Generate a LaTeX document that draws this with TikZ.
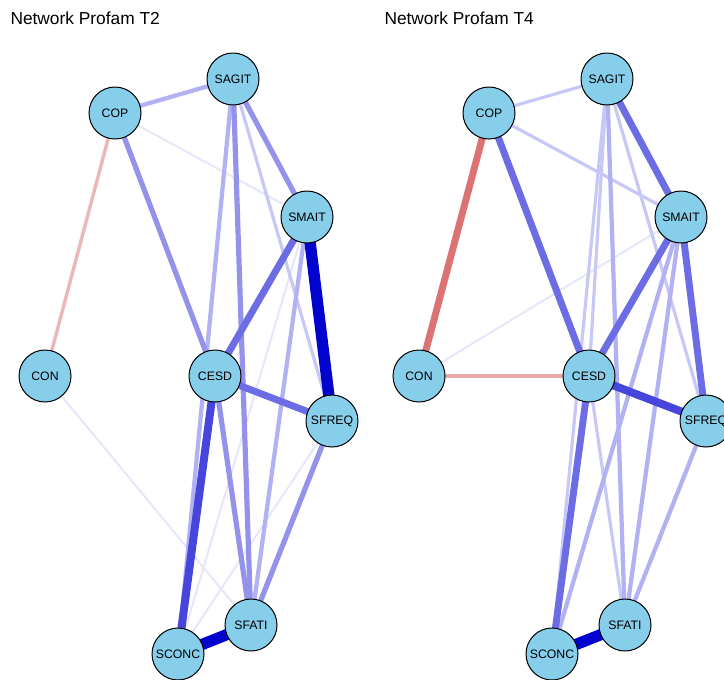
\documentclass[tikz,border=0pt]{standalone}
\usepackage{fontspec}
\setmainfont{Liberation Sans}
\usepackage{tikz}
\usetikzlibrary{backgrounds}

\definecolor{nodeblue}{HTML}{87CEEB}
\definecolor{edgefaint}{HTML}{E6E6FB}
\definecolor{edgevlight}{HTML}{C8C8F6}
\definecolor{edgelight}{HTML}{B2B2F2}
\definecolor{edgemid}{HTML}{9393EB}
\definecolor{edgemed}{HTML}{6C6CE5}
\definecolor{edgedark}{HTML}{4646DD}
\definecolor{edgedeep}{HTML}{0303CF}
\definecolor{negpale}{HTML}{EBB8B8}
\definecolor{neglight}{HTML}{E8A8A8}
\definecolor{negred}{HTML}{DC7272}

\begin{document}
\begin{tikzpicture}[x=0.75pt, y=-0.75pt,
    every node/.style={circle, draw=black, line width=0.75pt, fill=nodeblue,
        minimum size=39pt, inner sep=0pt, font=\fontsize{9.2}{11}\selectfont},
    title/.style={draw=none, fill=none, circle=false, rectangle, minimum size=0pt,
        anchor=west, font=\fontsize{13}{15}\selectfont},
    w0/.style={draw=edgefaint, line width=1.5pt},
    w1/.style={draw=edgevlight, line width=2.4pt},
    w2/.style={draw=edgelight, line width=3.2pt},
    w3/.style={draw=edgemid, line width=3.9pt},
    w4/.style={draw=edgemed, line width=5.2pt},
    w5/.style={draw=edgedark, line width=6pt},
    w6/.style={draw=edgedeep, line width=8.5pt},
    neg1/.style={draw=negpale, line width=2.6pt},
    neg2/.style={draw=neglight, line width=3.4pt},
    neg3/.style={draw=negred, line width=5.2pt}
]
\useasboundingbox (0,0) rectangle (724,679);

% Titles
\node[title] (ttwo)  at (10, 18)  {Network Profam T2};
\node[title] (tfour) at (384, 18) {Network Profam T4};

% Panel T2 -- nodes
\node (copA)   at (115, 113) {COP};
\node (sagitA) at (233, 79)  {SAGIT};
\node (smaitA) at (307, 217) {SMAIT};
\node (conA)   at (45, 376)  {CON};
\node (cesdA)  at (215, 376) {CESD};
\node (sfreqA) at (332, 421) {SFREQ};
\node (sfatiA) at (251, 625) {SFATI};
\node (sconcA) at (178, 654) {SCONC};

% Panel T4 -- nodes
\node (copB)   at (489, 113) {COP};
\node (sagitB) at (607, 79)  {SAGIT};
\node (smaitB) at (681, 217) {SMAIT};
\node (conB)   at (419, 376) {CON};
\node (cesdB)  at (589, 376) {CESD};
\node (sfreqB) at (706, 421) {SFREQ};
\node (sfatiB) at (625, 625) {SFATI};
\node (sconcB) at (552, 654) {SCONC};

\begin{pgfonlayer}{background}
% Edges T2 -- weakest first
\draw[w0]   (copA.center)   -- (smaitA.center);
\draw[w0]   (smaitA.center) -- (sconcA.center);
\draw[w0]   (sfreqA.center) -- (sconcA.center);
\draw[w0]   (conA.center)   -- (sfatiA.center);
\draw[neg1] (copA.center)   -- (conA.center);
\draw[w1]   (sagitA.center) -- (sfreqA.center);
\draw[w2]   (copA.center)   -- (sagitA.center);
\draw[w2]   (sagitA.center) -- (sconcA.center);
\draw[w2]   (smaitA.center) -- (sfatiA.center);
\draw[w3]   (copA.center)   -- (cesdA.center);
\draw[w3]   (sagitA.center) -- (smaitA.center);
\draw[w3]   (sagitA.center) -- (sfatiA.center);
\draw[w3]   (cesdA.center)  -- (sfatiA.center);
\draw[w3]   (sfreqA.center) -- (sfatiA.center);
\draw[w4]   (smaitA.center) -- (cesdA.center);
\draw[w4]   (cesdA.center)  -- (sfreqA.center);
\draw[w5]   (cesdA.center)  -- (sconcA.center);
\draw[w6]   (smaitA.center) -- (sfreqA.center);
\draw[w6]   (sfatiA.center) -- (sconcA.center);

% Edges T4 -- weakest first
\draw[w0]   (conB.center)   -- (smaitB.center);
\draw[w1]   (copB.center)   -- (sagitB.center);
\draw[w1]   (copB.center)   -- (smaitB.center);
\draw[w1]   (sagitB.center) -- (sconcB.center);
\draw[w1]   (sagitB.center) -- (cesdB.center);
\draw[w1]   (sagitB.center) -- (sfreqB.center);
\draw[w1]   (cesdB.center)  -- (sfatiB.center);
\draw[neg2] (conB.center)   -- (cesdB.center);
\draw[w2]   (sagitB.center) -- (sfatiB.center);
\draw[w2]   (smaitB.center) -- (sfatiB.center);
\draw[w2]   (smaitB.center) -- (sconcB.center);
\draw[w2]   (sfreqB.center) -- (sfatiB.center);
\draw[neg3] (copB.center)   -- (conB.center);
\draw[w4]   (copB.center)   -- (cesdB.center);
\draw[w4]   (sagitB.center) -- (smaitB.center);
\draw[w4]   (smaitB.center) -- (cesdB.center);
\draw[w4]   (smaitB.center) -- (sfreqB.center);
\draw[w4]   (cesdB.center)  -- (sconcB.center);
\draw[w5]   (cesdB.center)  -- (sfreqB.center);
\draw[w6]   (sfatiB.center) -- (sconcB.center);
\end{pgfonlayer}
\end{tikzpicture}
\end{document}
